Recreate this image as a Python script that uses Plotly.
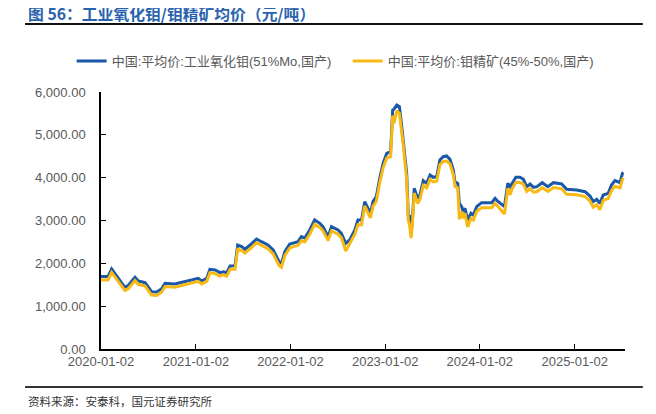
import plotly.graph_objects as go

dates = [
    "2020-01-02", "2020-01-29", "2020-02-12", "2020-04-03", "2020-04-15", "2020-05-12",
    "2020-05-25", "2020-06-20", "2020-07-15", "2020-08-04", "2020-08-23", "2020-09-05",
    "2020-10-13", "2020-11-21", "2020-12-23", "2021-01-11", "2021-01-24", "2021-02-13",
    "2021-02-25", "2021-03-17", "2021-04-05", "2021-04-18", "2021-05-01", "2021-05-14",
    "2021-06-02", "2021-06-12", "2021-06-28", "2021-07-10", "2021-07-30", "2021-08-24",
    "2021-09-12", "2021-10-07", "2021-10-27", "2021-11-19", "2021-11-28", "2021-12-11",
    "2021-12-30", "2022-01-31", "2022-02-13", "2022-02-26", "2022-03-17", "2022-04-05",
    "2022-04-25", "2022-05-07", "2022-05-27", "2022-06-09", "2022-07-04", "2022-07-17",
    "2022-08-03", "2022-08-18", "2022-09-07", "2022-09-19", "2022-10-03", "2022-10-15",
    "2022-10-28", "2022-11-06", "2022-11-16", "2022-11-29", "2022-12-12", "2022-12-25",
    "2023-01-08", "2023-01-23", "2023-01-31", "2023-02-05", "2023-02-16", "2023-02-26",
    "2023-03-07", "2023-03-13", "2023-03-26", "2023-04-01", "2023-04-06", "2023-04-12",
    "2023-04-17", "2023-04-24", "2023-05-07", "2023-05-16", "2023-05-29", "2023-06-11",
    "2023-06-24", "2023-07-07", "2023-07-20", "2023-08-01", "2023-08-14", "2023-08-27",
    "2023-09-09", "2023-09-22", "2023-09-28", "2023-10-09", "2023-10-15", "2023-10-24",
    "2023-10-30", "2023-11-06", "2023-11-16", "2023-11-29", "2023-12-08", "2023-12-21",
    "2024-01-09", "2024-02-17", "2024-03-01", "2024-03-13", "2024-03-27", "2024-04-06",
    "2024-04-19", "2024-04-28", "2024-05-06", "2024-05-20", "2024-06-05", "2024-06-18",
    "2024-07-01", "2024-07-14", "2024-07-27", "2024-08-09", "2024-08-30", "2024-09-20",
    "2024-10-12", "2024-11-13", "2024-12-02", "2025-01-10", "2025-02-11", "2025-03-02",
    "2025-03-15", "2025-03-28", "2025-04-09", "2025-04-22", "2025-05-11", "2025-05-24",
    "2025-06-06", "2025-06-26", "2025-07-05", "2025-07-09",
]

moo3_price = [
    1690, 1690, 1868, 1440, 1480, 1674, 1588, 1548, 1338, 1330, 1408, 1534,
    1518, 1572, 1611, 1650, 1588, 1650, 1860, 1845, 1782, 1805, 1782, 1938,
    1945, 2428, 2390, 2328, 2428, 2568, 2505, 2428, 2311, 2038, 2000, 2272,
    2451, 2505, 2622, 2590, 2778, 3012, 2934, 2856, 2622, 2856, 2778, 2700,
    2467, 2545, 2778, 3012, 3012, 3440, 3285, 3168, 3440, 3557, 3985, 4335,
    4569, 4607, 5580, 5600, 5697, 5657, 5190, 4880, 4101, 3128, 3105, 2730,
    3000, 3752, 3518, 3596, 3930, 3868, 4063, 4008, 4024, 4413, 4490, 4506,
    4428, 4180, 3906, 3868, 3401, 3323, 3206, 3284, 3012, 3168, 3128, 3323,
    3416, 3416, 3518, 3440, 3362, 3323, 3868, 3790, 3868, 4008, 4008, 3962,
    3790, 3852, 3775, 3790, 3883, 3790, 3883, 3852, 3728, 3712, 3673, 3572,
    3440, 3495, 3401, 3596, 3635, 3830, 3930, 3883, 4101, 4120,
]

conc_price = [
    1610, 1610, 1790, 1370, 1400, 1600, 1510, 1470, 1260, 1250, 1330, 1460,
    1440, 1500, 1540, 1580, 1520, 1580, 1780, 1760, 1700, 1730, 1700, 1860,
    1860, 2330, 2300, 2240, 2340, 2480, 2420, 2340, 2220, 1950, 1910, 2180,
    2360, 2420, 2530, 2500, 2680, 2910, 2840, 2760, 2530, 2760, 2680, 2600,
    2290, 2450, 2680, 2900, 2900, 3340, 3180, 3060, 3330, 3450, 3880, 4230,
    4460, 4490, 5450, 5270, 5560, 5500, 5050, 4750, 3950, 3000, 2900, 2590,
    2900, 3640, 3400, 3490, 3820, 3760, 3960, 3900, 3920, 4300, 4380, 4390,
    4320, 4070, 3800, 3760, 3030, 3210, 3050, 3170, 2850, 3050, 3010, 3210,
    3300, 3300, 3400, 3320, 3240, 3150, 3750, 3600, 3750, 3890, 3890, 3850,
    3680, 3740, 3660, 3670, 3770, 3680, 3770, 3740, 3610, 3600, 3560, 3450,
    3310, 3370, 3250, 3470, 3510, 3700, 3800, 3760, 3960, 4000,
]

series_names = [
    "中国:平均价:工业氧化钼(51%Mo,国产)",
    "中国:平均价:钼精矿(45%-50%,国产)",
]
tick_dates = ["2020-01-02", "2021-01-02", "2022-01-02", "2023-01-02", "2024-01-02", "2025-01-02"]
y_ticks = [0, 1000, 2000, 3000, 4000, 5000, 6000]
title_text = "图 56：工业氧化钼/钼精矿均价（元/吨）"
source_text = "资料来源：安泰科，国元证券研究所"

BLUE = "#1b58a7"
YELLOW = "#f8b912"
GRAY = "#595959"
CJK = "Liberation Sans, Arial, Noto Sans CJK SC, sans-serif"

fig = go.Figure()
fig.add_trace(go.Scatter(x=dates, y=moo3_price, mode="lines", name=series_names[0],
                         line=dict(color=BLUE, width=3)))
fig.add_trace(go.Scatter(x=dates, y=conc_price, mode="lines", name=series_names[1],
                         line=dict(color=YELLOW, width=3)))

fig.update_layout(
    width=656, height=414,
    margin=dict(l=93, r=39, t=84, b=73),
    paper_bgcolor="white", plot_bgcolor="white",
    font=dict(family=CJK, size=13, color=GRAY),
    showlegend=True,
    legend=dict(orientation="h", x=-0.056, xanchor="left", y=1.12, yanchor="middle",
                font=dict(size=13, color=GRAY, family=CJK), traceorder="normal",
                itemwidth=30, entrywidth=231, entrywidthmode="pixels"),
    xaxis=dict(type="date", range=["2020-01-02", "2025-07-15"],
               tickvals=tick_dates, ticktext=tick_dates,
               showline=True, linecolor="#000000", linewidth=1.5,
               ticks="inside", ticklen=5, tickcolor="#000000", tickwidth=1,
               showgrid=False, zeroline=False,
               tickfont=dict(size=13, color=GRAY, family=CJK)),
    yaxis=dict(range=[0, 6000], tickvals=y_ticks, tickformat=",.2f",
               showline=True, linecolor="#000000", linewidth=1.5,
               ticks="inside", ticklen=5, tickcolor="#000000", tickwidth=1,
               showgrid=False, zeroline=False, ticklabelstandoff=11,
               tickfont=dict(size=13, color=GRAY, family=CJK)),
)

fig.add_annotation(text="<b>" + title_text + "</b>", xref="paper", yref="paper",
                   x=-0.143, y=1.305, xanchor="left", yanchor="middle", showarrow=False,
                   font=dict(size=15.8, color="#2a63ad", family="Noto Sans CJK SC, sans-serif"))
fig.add_annotation(text=source_text, xref="paper", yref="paper",
                   x=-0.143, y=-0.202, xanchor="left", yanchor="middle", showarrow=False,
                   font=dict(size=11.5, color="#333333", family="Noto Sans CJK SC, sans-serif"))
fig.add_shape(type="line", xref="paper", yref="paper", x0=-0.145, x1=1.034, y0=1.265, y1=1.265,
              line=dict(color="#111111", width=2))
fig.add_shape(type="line", xref="paper", yref="paper", x0=-0.145, x1=1.034, y0=-0.148, y1=-0.148,
              line=dict(color="#333333", width=2))

fig.write_html("out.html")
